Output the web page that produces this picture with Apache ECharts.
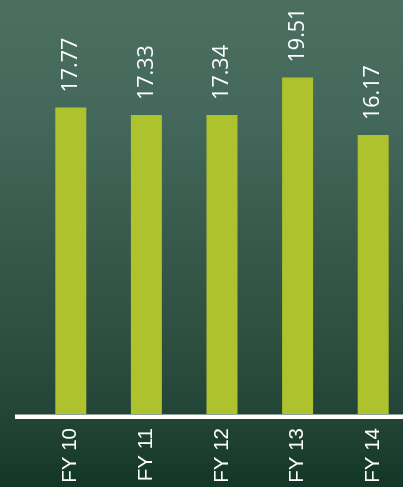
<!DOCTYPE html>
<html>
<head>
<meta charset="utf-8">
<script src="https://cdn.jsdelivr.net/npm/echarts@6/dist/echarts.min.js"></script>
<style>
html,body{margin:0;padding:0;width:403px;height:487px;overflow:hidden;background:#2c4f40;}
#c{width:411px;height:487px;}
</style>
</head>
<body>
<div id="c"></div>
<script>
const categories = ['FY 10', 'FY 11', 'FY 12', 'FY 13', 'FY 14'];
const values = [17.77, 17.33, 17.34, 19.51, 16.17];

const chart = echarts.init(document.getElementById('c'));
chart.setOption({
  animation: false,
  backgroundColor: {
    type: 'linear', x: 0, y: 0, x2: 0, y2: 1,
    colorStops: [
      {offset: 0, color: '#4b6f60'},
      {offset: 0.25, color: '#43675a'},
      {offset: 0.5, color: '#36594b'},
      {offset: 0.7, color: '#2c4f40'},
      {offset: 0.85, color: '#234537'},
      {offset: 1, color: '#133726'}
    ]
  },
  grid: {left: 33, top: 0, right: 0, bottom: 73, containLabel: false},
  xAxis: {
    type: 'category',
    data: categories,
    axisLine: {show: false},
    axisTick: {show: false},
    axisLabel: {
      rotate: 90,
      color: '#ffffff',
      fontFamily: 'Liberation Sans, Arial, sans-serif',
      fontSize: 20.5,
      margin: 14,
      interval: 0
    }
  },
  yAxis: {
    type: 'value', min: 0, max: 24,
    show: false,
    splitLine: {show: false}
  },
  graphic: [{
    type: 'rect',
    shape: {x: 15, y: 414.5, width: 400, height: 4.5},
    style: {fill: '#ffffff'},
    z: 10
  }],
  series: [{
    type: 'bar',
    data: values,
    barWidth: 31,
    itemStyle: {color: '#adc22c'},
    label: {
      show: true,
      position: 'top',
      rotate: 90,
      align: 'left',
      verticalAlign: 'middle',
      distance: 15,
      color: '#ffffff',
      fontFamily: 'Open Sans, Noto Sans, sans-serif',
      fontSize: 21.5,
      formatter: p => p.value.toFixed(2)
    }
  }]
});
</script>
</body>
</html>
